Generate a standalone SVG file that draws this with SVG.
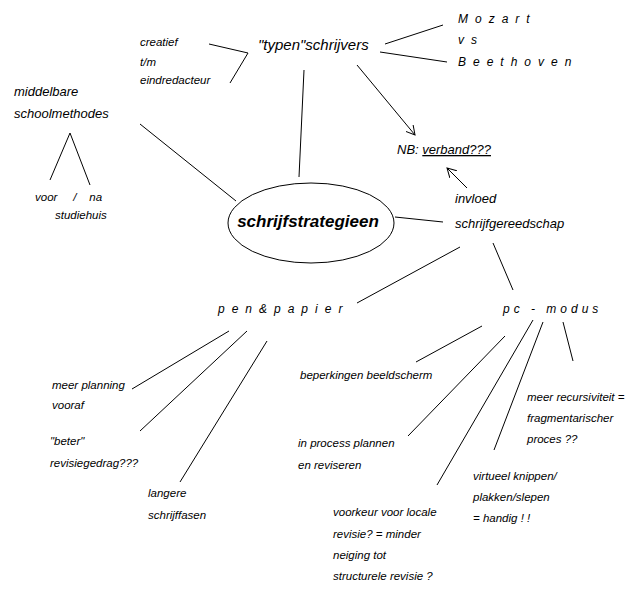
<svg xmlns="http://www.w3.org/2000/svg" width="638" height="590" viewBox="0 0 638 590">
<style>
text{font-family:"Liberation Sans",sans-serif;font-style:italic;font-size:11.5px;fill:#000}
.sp{letter-spacing:7px;font-size:12px}
.c line{stroke:#000;stroke-width:1}
</style>
<defs><marker id="a" markerWidth="10" markerHeight="10" refX="9" refY="5" orient="auto" markerUnits="userSpaceOnUse"><path d="M0,0 L9,5 L0,10" fill="none" stroke="#000"/></marker></defs>
<rect width="638" height="590" fill="#fff"/>
<g class="c">
<line x1="209" y1="44" x2="248" y2="53"/><line x1="248" y1="53" x2="230" y2="83"/>
<line x1="385" y1="44" x2="443" y2="25"/><line x1="380" y1="52" x2="447" y2="62"/>
<line x1="304" y1="70" x2="299" y2="177"/>
<line x1="357" y1="65" x2="415" y2="135" marker-end="url(#a)"/>
<line x1="140" y1="124" x2="236" y2="201"/>
<line x1="70" y1="133" x2="50" y2="180"/><line x1="70" y1="133" x2="90" y2="185"/>
<line x1="467" y1="188" x2="447" y2="168" marker-end="url(#a)"/>
<line x1="395" y1="217" x2="443" y2="222"/>
<line x1="460" y1="247" x2="357" y2="303"/>
<line x1="493" y1="243" x2="513" y2="290"/>
<line x1="229" y1="331" x2="132" y2="389"/><line x1="247" y1="331" x2="140" y2="431"/><line x1="267" y1="341" x2="180" y2="482"/>
<line x1="482" y1="326" x2="416" y2="362"/><line x1="505" y1="336" x2="408" y2="436"/><line x1="533" y1="320" x2="437" y2="485"/><line x1="543" y1="322" x2="494" y2="450"/><line x1="563" y1="322" x2="573" y2="361"/>
</g>
<g id="center"><ellipse cx="311" cy="223" rx="83" ry="40" fill="none" stroke="#000"/><text x="308" y="227" text-anchor="middle" style="font-size:17px;font-weight:bold">schrijfstrategieen</text></g>
<g id="typen"><text x="258" y="50" style="font-size:15px">"typen"schrijvers</text></g>
<g id="creatief"><text x="140" y="46">creatief</text><text x="140" y="66">t/m</text><text x="140" y="84">eindredacteur</text></g>
<g id="mozart"><text class="sp" x="458" y="23">Mozart</text><text class="sp" x="458" y="44">vs</text><text class="sp" x="458" y="66">Beethoven</text></g>
<g id="middelbare"><text x="14" y="96" style="font-size:13px">middelbare</text><text x="14" y="118" style="font-size:13px">schoolmethodes</text></g>
<g id="voorna"><text x="35" y="201" style="white-space:pre">voor     /    na</text><text x="55" y="219">studiehuis</text></g>
<g id="nb"><text x="397" y="154" style="font-size:13px">NB: <tspan text-decoration="underline">verband???</tspan></text></g>
<g id="invloed"><text x="455" y="203" style="font-size:13px">invloed</text><text x="455" y="228" style="font-size:13px">schrijfgereedschap</text></g>
<g id="pen"><text class="sp" x="218" y="313">pen&amp;papier</text></g>
<g id="pc"><text class="sp" x="503" y="313" style="letter-spacing:4px">pc - modus</text></g>
<g id="planning"><text x="52" y="389">meer planning</text><text x="52" y="409">vooraf</text></g>
<g id="beter"><text x="50" y="445">"beter"</text><text x="50" y="467">revisiegedrag???</text></g>
<g id="langere"><text x="148" y="497">langere</text><text x="148" y="519">schrijffasen</text></g>
<g id="beperkingen"><text x="300" y="379">beperkingen beeldscherm</text></g>
<g id="inprocess"><text x="298" y="447">in process plannen</text><text x="298" y="469">en reviseren</text></g>
<g id="voorkeur"><text x="333" y="516">voorkeur voor locale</text><text x="333" y="538">revisie? = minder</text><text x="333" y="559">neiging tot</text><text x="333" y="580">structurele revisie ?</text></g>
<g id="virtueel"><text x="473" y="480">virtueel knippen/</text><text x="473" y="501">plakken/slepen</text><text x="473" y="522">= handig ! !</text></g>
<g id="recursief"><text x="527" y="401">meer recursiviteit =</text><text x="527" y="422">fragmentarischer</text><text x="527" y="443">proces ??</text></g>
</svg>
